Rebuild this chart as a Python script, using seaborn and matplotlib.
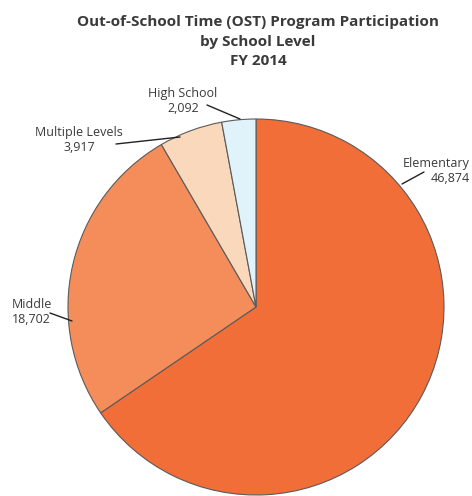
import matplotlib
matplotlib.use("Agg")
import matplotlib.pyplot as plt
import seaborn as sns

categories = ["Elementary", "Middle", "Multiple Levels", "High School"]
values = [46874, 18702, 3917, 2092]
value_labels = ["46,874", "18,702", "3,917", "2,092"]
colors = ["#F26E38", "#F58D5B", "#FAD8BC", "#E0F2FA"]

sns.set_theme(style="white")
plt.rcParams["font.family"] = ["Open Sans", "DejaVu Sans"]

W, H = 472, 496
fig = plt.figure(figsize=(W / 100, H / 100), dpi=100)
ax = fig.add_axes([0, 0, 1, 1])

CX, CY, R = 256, 307, 188

def P(x, y):
    return ((x - CX) / R, (CY - y) / R)

ax.pie(values, colors=colors, startangle=90, counterclock=False,
       radius=1, center=(0, 0),
       wedgeprops=dict(edgecolor="#5a5a5a", linewidth=0.8))
ax.set_xlim(-CX / R, (W - CX) / R)
ax.set_ylim((CY - H) / R, CY / R)
ax.set_aspect("auto")
ax.axis("off")

tc = "#3a3a3a"
fig.text(258 / W, 1 - 22 / H, "Out-of-School Time (OST) Program Participation",
         ha="center", va="center", fontsize=11, fontweight="bold", color=tc)
fig.text(258 / W, 1 - 42 / H, "by School Level",
         ha="center", va="center", fontsize=11, fontweight="bold", color=tc)
fig.text(258 / W, 1 - 61 / H, "FY 2014",
         ha="center", va="center", fontsize=11, fontweight="bold", color=tc)

# label layout: (text x, text y, ha, line start, line end)
layout = {
    "Elementary": (470, 171, "right", (402, 184), (424, 172)),
    "Middle": (12, 312, "left", (50, 313), (72, 321)),
    "Multiple Levels": (79, 140, "center", (116, 144), (180, 137)),
    "High School": (183, 101, "center", (207, 105), (240, 119)),
}
for cat, vl in zip(categories, value_labels):
    tx, ty, ha, p0, p1 = layout[cat]
    ax.text(*P(tx, ty), f"{cat}\n{vl}", ha=ha, va="center", fontsize=9,
            color=tc, linespacing=1.25, multialignment=ha)
    ax.plot(*zip(P(*p0), P(*p1)), color="#222222", linewidth=1.0)

fig.savefig("out.png", dpi=100)
